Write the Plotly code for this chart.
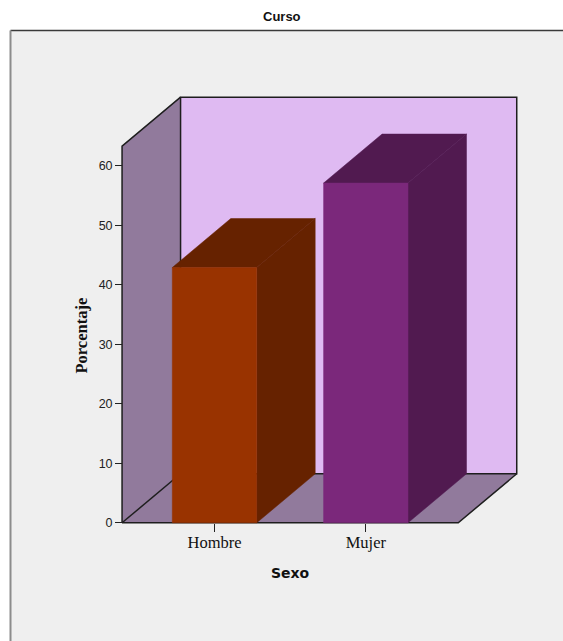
import plotly.graph_objects as go

# ---- data ----
categories = ["Hombre", "Mujer"]
porcentaje = [42.9, 57.1]
y_tick_values = [0, 10, 20, 30, 40, 50, 60]
title_text = "Curso"
x_title = "Sexo"
y_title = "Porcentaje"

# ---- layout geometry (pixels) ----
W, H = 563, 641
L, R, T, B = 110, 33, 94, 112
PW, PH = W - L - R, H - T - B
PX_PER_X = 151.3          # pixels per category step
PX_PER_Y = 5.95           # pixels per percentage point
X0_PIX = 214.5            # pixel of first category centre
Y0_PIX = 522.8            # pixel of value 0

xmin = (L - X0_PIX) / PX_PER_X
xmax = xmin + PW / PX_PER_X
ymin = -((H - B) - Y0_PIX) / PX_PER_Y
ymax = ymin + PH / PX_PER_Y

# 3D styling parameters (in data units)
HALF_BAR = 0.279
FLOOR_PAD = 0.611
DX = 58.5 / PX_PER_X
DY = 49.0 / PX_PER_Y
WALL_TOP = 63.3

WALL_SIDE = "#917A9C"
WALL_BACK = "#DFBAF2"
EDGE = "#1E1E1E"
front_cols = ["#993300", "#7B287B"]
dark_cols = ["#662200", "#511A50"]

n = len(categories)
xs = list(range(n))
fx0 = xs[0] - FLOOR_PAD
fx1 = xs[-1] + FLOOR_PAD

fig = go.Figure()


def poly(x, y, fill, line_col=None, lw=0.0):
    fig.add_trace(go.Scatter(
        x=list(x) + [x[0]], y=list(y) + [y[0]], mode="lines", fill="toself",
        fillcolor=fill, line=dict(color=line_col or fill, width=lw),
        hoverinfo="skip", showlegend=False))


def edge(x, y, lw=1.5):
    fig.add_trace(go.Scatter(x=x, y=y, mode="lines",
                             line=dict(color=EDGE, width=lw),
                             hoverinfo="skip", showlegend=False))


# back wall
poly([fx0 + DX, fx1 + DX, fx1 + DX, fx0 + DX],
     [DY, DY, WALL_TOP + DY, WALL_TOP + DY], WALL_BACK)
# left wall
poly([fx0, fx0, fx0 + DX, fx0 + DX], [0, WALL_TOP, WALL_TOP + DY, DY], WALL_SIDE)
# floor
poly([fx0, fx1, fx1 + DX, fx0 + DX], [0, 0, DY, DY], WALL_SIDE)

# edges
edge([fx0 + DX, fx0 + DX, fx1 + DX, fx1 + DX, fx0 + DX],
     [DY, WALL_TOP + DY, WALL_TOP + DY, DY, DY])
edge([fx0, fx0, fx0 + DX], [0, WALL_TOP, WALL_TOP + DY])
edge([fx0, fx0 + DX], [0, DY])
edge([fx0, fx1, fx1 + DX], [0, 0, DY])

# bars
for xc, v, fc, dc in zip(xs, porcentaje, front_cols, dark_cols):
    a, b = xc - HALF_BAR, xc + HALF_BAR
    poly([b, b + DX, b + DX, b], [0, DY, v + DY, v], dc, dc, 0.5)          # side
    poly([a, b, b + DX, a + DX], [v, v, v + DY, v + DY], dc, dc, 0.5)      # top
    poly([a, b, b, a], [0, 0, v, v], fc, fc, 0.5)                          # front


def px(xp):
    return (xp - L) / PW


def py(yp):
    return ((H - B) - yp) / PH


shapes = [
    # white strip above the frame
    dict(type="rect", xref="paper", yref="paper", x0=px(-5), x1=px(W + 20),
         y0=py(30.5), y1=py(-5), fillcolor="white", line=dict(width=0),
         layer="below"),
    # white strip left of the frame
    dict(type="rect", xref="paper", yref="paper", x0=px(-5), x1=px(10.5),
         y0=py(H + 20), y1=py(-5), fillcolor="white", line=dict(width=0),
         layer="below"),
    dict(type="line", xref="paper", yref="paper", x0=px(10.5), x1=px(W + 20),
         y0=py(30.5), y1=py(30.5), line=dict(color="#3A3A3A", width=1.5)),
    dict(type="line", xref="paper", yref="paper", x0=px(10.5), x1=px(10.5),
         y0=py(30.5), y1=py(H + 20), line=dict(color="#8C8C8C", width=2)),
]

annotations = [
    dict(text="<b>" + title_text + "</b>", xref="paper", yref="paper",
         x=px(282), y=py(16), showarrow=False, xanchor="center", yanchor="middle",
         font=dict(family="Liberation Sans Narrow, Liberation Sans, Arial", size=13, color="#111")),
    dict(text="<b>" + y_title + "</b>", xref="paper", yref="paper",
         x=px(81), y=py(335.5), showarrow=False, textangle=-90,
         xanchor="center", yanchor="middle",
         font=dict(family="Liberation Serif, Times New Roman", size=16.5, color="#111")),
    dict(text="<b>" + x_title + "</b>", xref="paper", yref="paper",
         x=px(290), y=py(573), showarrow=False, xanchor="center", yanchor="middle",
         font=dict(family="DejaVu Sans, Verdana", size=14, color="#111")),
]

fig.update_layout(
    width=W, height=H,
    margin=dict(l=L, r=R, t=T, b=B, pad=0),
    paper_bgcolor="#EFEFEF", plot_bgcolor="rgba(0,0,0,0)",
    shapes=shapes, annotations=annotations, showlegend=False,
    xaxis=dict(range=[xmin, xmax], tickvals=xs, ticktext=categories,
               showgrid=False, zeroline=False, showline=False,
               ticks="outside", ticklen=8, tickwidth=1.2, tickcolor="#222",
               ticklabelstandoff=-4,
               anchor="free", position=((H - B) - Y0_PIX) / PH,
               tickfont=dict(family="Liberation Serif, Times New Roman", size=16.5, color="#111"),
               fixedrange=True),
    yaxis=dict(range=[ymin, ymax], tickvals=y_tick_values,
               showgrid=False, zeroline=False, showline=False,
               ticks="outside", ticklen=7, tickwidth=1.2, tickcolor="#222",
               anchor="free", position=px(fx0 * PX_PER_X + X0_PIX),
               tickfont=dict(family="Liberation Sans, Arial", size=12.5, color="#222"),
               fixedrange=True),
)

hide_scroll = ("document.documentElement.style.overflow='hidden';"
               "document.body.style.margin='0';"
               "document.body.style.overflow='hidden';")
fig.write_html("out.html", config={"displayModeBar": False}, post_script=hide_scroll)
